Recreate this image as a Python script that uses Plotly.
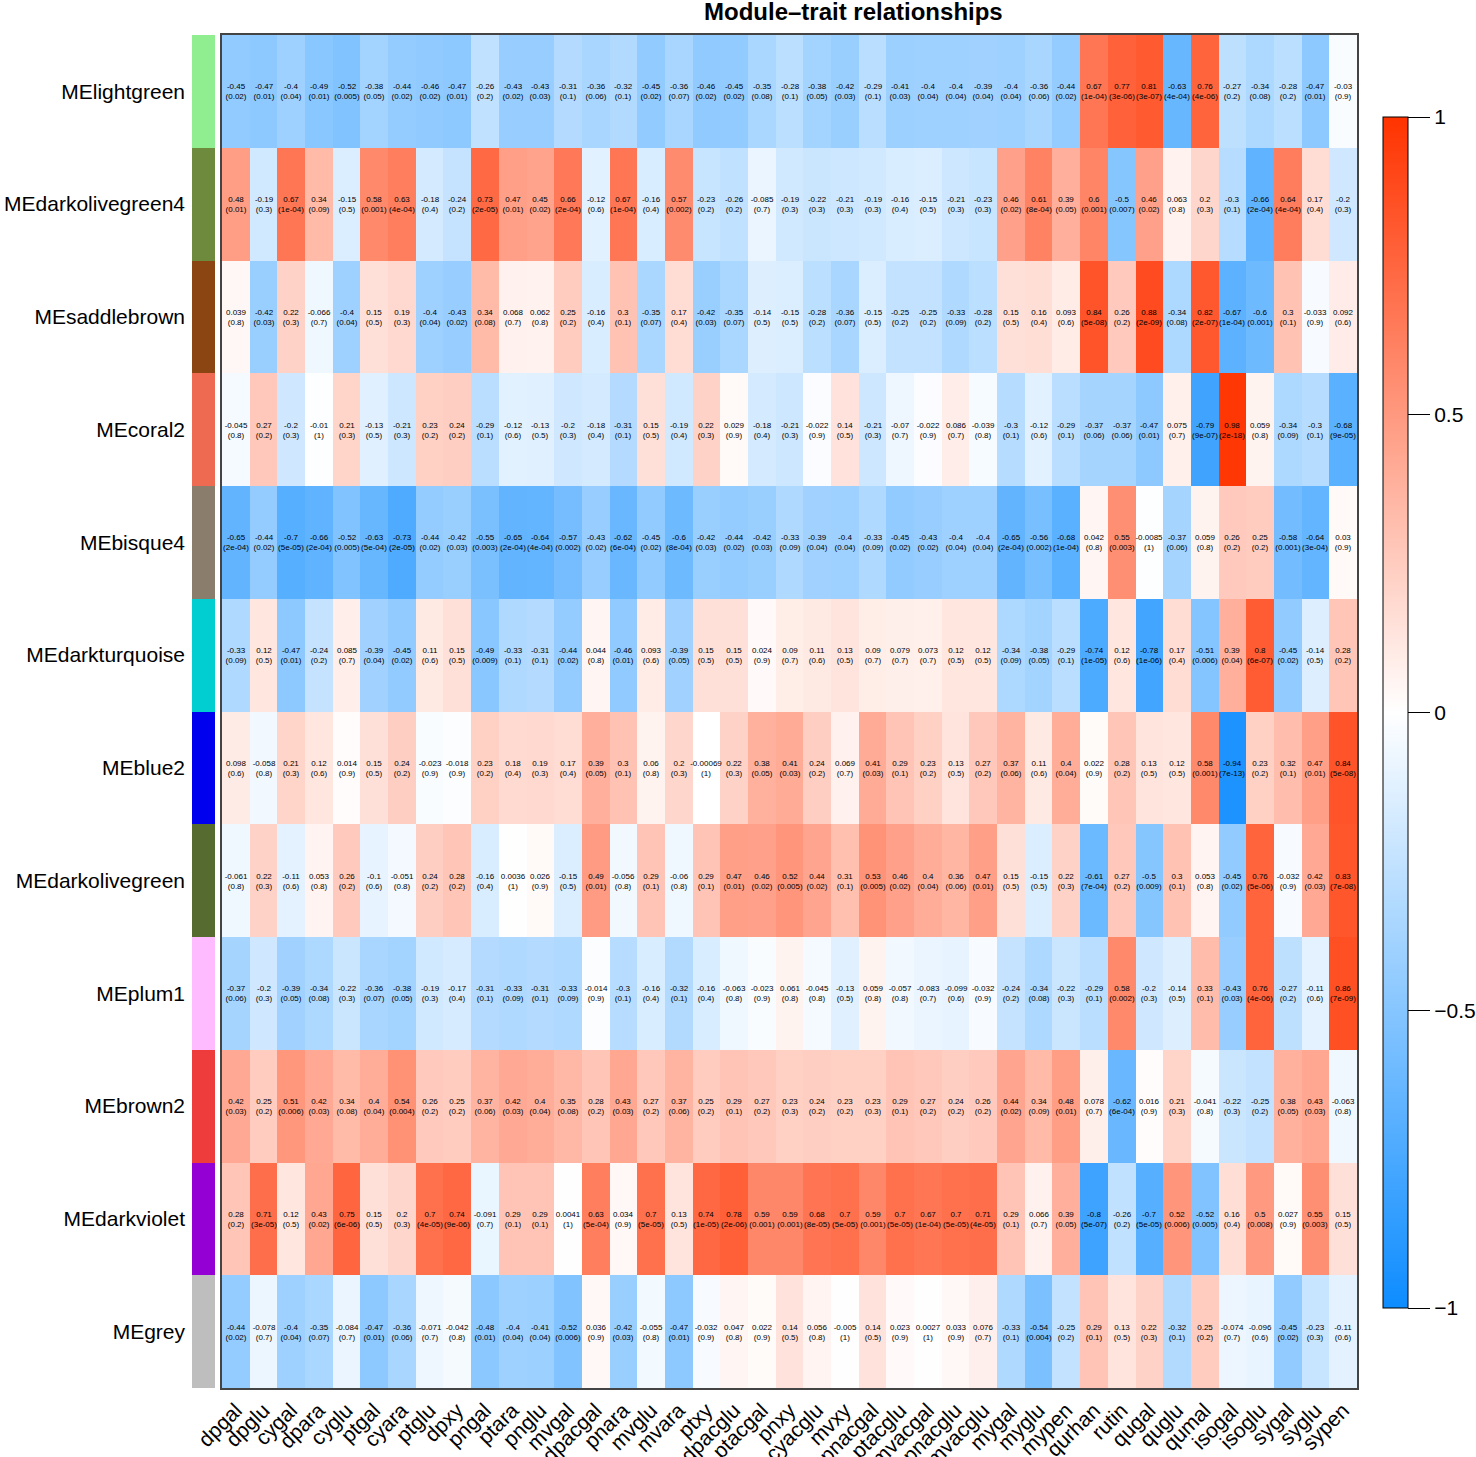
import plotly.graph_objects as go

# modules (rows, top to bottom) and traits (columns)
modules = ['MElightgreen', 'MEdarkolivegreen4', 'MEsaddlebrown', 'MEcoral2', 'MEbisque4',
           'MEdarkturquoise', 'MEblue2', 'MEdarkolivegreen', 'MEplum1', 'MEbrown2',
           'MEdarkviolet', 'MEgrey']
module_colors = ['#90EE90', '#6E8B3D', '#8B4513', '#EE6A50', '#8B7D6B', '#00CED1',
                 '#0000EE', '#556B2F', '#FFBBFF', '#EE3B3B', '#9400D3', '#BEBEBE']
traits = ['dpgal', 'dpglu', 'cygal', 'dpara', 'cyglu', 'ptgal', 'cyara', 'ptglu', 'dpxy',
          'pngal', 'ptara', 'pnglu', 'mvgal', 'dpacgal', 'pnara', 'mvglu', 'mvara', 'ptxy',
          'dpacglu', 'ptacgal', 'pnxy', 'cyacglu', 'mvxy', 'pnacgal', 'ptacglu', 'mvacgal',
          'pnacglu', 'mvacglu', 'mygal', 'myglu', 'mypen', 'qurhan', 'rutin', 'qugal',
          'quglu', 'qumal', 'isogal', 'isoglu', 'sygal', 'syglu', 'sypen']

# correlations
cor_lightgreen = [-0.45, -0.47, -0.4, -0.49, -0.52, -0.38, -0.44, -0.46, -0.47, -0.26, -0.43, -0.43, -0.31, -0.36, -0.32, -0.45, -0.36, -0.46, -0.45, -0.35, -0.28, -0.38, -0.42, -0.29, -0.41, -0.4, -0.4, -0.39, -0.4, -0.36, -0.44, 0.67, 0.77, 0.81, -0.63, 0.76, -0.27, -0.34, -0.28, -0.47, -0.03]
cor_darkolivegreen4 = [0.48, -0.19, 0.67, 0.34, -0.15, 0.58, 0.63, -0.18, -0.24, 0.73, 0.47, 0.45, 0.66, -0.12, 0.67, -0.16, 0.57, -0.23, -0.26, -0.085, -0.19, -0.22, -0.21, -0.19, -0.16, -0.15, -0.21, -0.23, 0.46, 0.61, 0.39, 0.6, -0.5, 0.46, 0.063, 0.2, -0.3, -0.66, 0.64, 0.17, -0.2]
cor_saddlebrown = [0.039, -0.42, 0.22, -0.066, -0.4, 0.15, 0.19, -0.4, -0.43, 0.34, 0.068, 0.062, 0.25, -0.16, 0.3, -0.35, 0.17, -0.42, -0.35, -0.14, -0.15, -0.28, -0.36, -0.15, -0.25, -0.25, -0.33, -0.28, 0.15, 0.16, 0.093, 0.84, 0.26, 0.88, -0.34, 0.82, -0.67, -0.6, 0.3, -0.033, 0.092]
cor_coral2 = [-0.045, 0.27, -0.2, -0.01, 0.21, -0.13, -0.21, 0.23, 0.24, -0.29, -0.12, -0.13, -0.2, -0.18, -0.31, 0.15, -0.19, 0.22, 0.029, -0.18, -0.21, -0.022, 0.14, -0.21, -0.07, -0.022, 0.086, -0.039, -0.3, -0.12, -0.29, -0.37, -0.37, -0.47, 0.075, -0.79, 0.98, 0.059, -0.34, -0.3, -0.68]
cor_bisque4 = [-0.65, -0.44, -0.7, -0.66, -0.52, -0.63, -0.73, -0.44, -0.42, -0.55, -0.65, -0.64, -0.57, -0.43, -0.62, -0.45, -0.6, -0.42, -0.44, -0.42, -0.33, -0.39, -0.4, -0.33, -0.45, -0.43, -0.4, -0.4, -0.65, -0.56, -0.68, 0.042, 0.55, -0.0085, -0.37, 0.059, 0.26, 0.25, -0.58, -0.64, 0.03]
cor_darkturquoise = [-0.33, 0.12, -0.47, -0.24, 0.085, -0.39, -0.45, 0.11, 0.15, -0.49, -0.33, -0.31, -0.44, 0.044, -0.46, 0.093, -0.39, 0.15, 0.15, 0.024, 0.09, 0.11, 0.13, 0.09, 0.079, 0.073, 0.12, 0.12, -0.34, -0.38, -0.29, -0.74, 0.12, -0.78, 0.17, -0.51, 0.39, 0.8, -0.45, -0.14, 0.28]
cor_blue2 = [0.098, -0.058, 0.21, 0.12, 0.014, 0.15, 0.24, -0.023, -0.018, 0.23, 0.18, 0.19, 0.17, 0.39, 0.3, 0.06, 0.2, -0.00069, 0.22, 0.38, 0.41, 0.24, 0.069, 0.41, 0.29, 0.23, 0.13, 0.27, 0.37, 0.11, 0.4, 0.022, 0.28, 0.13, 0.12, 0.58, -0.94, 0.23, 0.32, 0.47, 0.84]
cor_darkolivegreen = [-0.061, 0.22, -0.11, 0.053, 0.26, -0.1, -0.051, 0.24, 0.28, -0.16, 0.0036, 0.026, -0.15, 0.49, -0.056, 0.29, -0.06, 0.29, 0.47, 0.46, 0.52, 0.44, 0.31, 0.53, 0.46, 0.4, 0.36, 0.47, 0.15, -0.15, 0.22, -0.61, 0.27, -0.5, 0.3, 0.053, -0.45, 0.76, -0.032, 0.42, 0.83]
cor_plum1 = [-0.37, -0.2, -0.39, -0.34, -0.22, -0.36, -0.38, -0.19, -0.17, -0.31, -0.33, -0.31, -0.33, -0.014, -0.3, -0.16, -0.32, -0.16, -0.063, -0.023, 0.061, -0.045, -0.13, 0.059, -0.057, -0.083, -0.099, -0.032, -0.24, -0.34, -0.22, -0.29, 0.58, -0.2, -0.14, 0.33, -0.43, 0.76, -0.27, -0.11, 0.86]
cor_brown2 = [0.42, 0.25, 0.51, 0.42, 0.34, 0.4, 0.54, 0.26, 0.25, 0.37, 0.42, 0.4, 0.35, 0.28, 0.43, 0.27, 0.37, 0.25, 0.29, 0.27, 0.23, 0.24, 0.23, 0.23, 0.29, 0.27, 0.24, 0.26, 0.44, 0.34, 0.48, 0.078, -0.62, 0.016, 0.21, -0.041, -0.22, -0.25, 0.38, 0.43, -0.063]
cor_darkviolet = [0.28, 0.71, 0.12, 0.43, 0.75, 0.15, 0.2, 0.7, 0.74, -0.091, 0.29, 0.29, 0.0041, 0.63, 0.034, 0.7, 0.13, 0.74, 0.78, 0.59, 0.59, 0.68, 0.7, 0.59, 0.7, 0.67, 0.7, 0.71, 0.29, 0.066, 0.39, -0.8, -0.26, -0.7, 0.52, -0.52, 0.16, 0.5, 0.027, 0.55, 0.15]
cor_grey = [-0.44, -0.078, -0.4, -0.35, -0.084, -0.47, -0.36, -0.071, -0.042, -0.48, -0.4, -0.41, -0.52, 0.036, -0.42, -0.055, -0.47, -0.032, 0.047, 0.022, 0.14, 0.056, -0.005, 0.14, 0.023, 0.0027, 0.033, 0.076, -0.33, -0.54, -0.25, 0.29, 0.13, 0.22, -0.32, 0.25, -0.074, -0.096, -0.45, -0.23, -0.11]

# p-values (as printed)
p_lightgreen = ['0.02', '0.01', '0.04', '0.01', '0.005', '0.05', '0.02', '0.02', '0.01', '0.2', '0.02', '0.03', '0.1', '0.06', '0.1', '0.02', '0.07', '0.02', '0.02', '0.08', '0.1', '0.05', '0.03', '0.1', '0.03', '0.04', '0.04', '0.04', '0.04', '0.06', '0.02', '1e-04', '3e-06', '3e-07', '4e-04', '4e-06', '0.2', '0.08', '0.2', '0.01', '0.9']
p_darkolivegreen4 = ['0.01', '0.3', '1e-04', '0.09', '0.5', '0.001', '4e-04', '0.4', '0.2', '2e-05', '0.01', '0.02', '2e-04', '0.6', '1e-04', '0.4', '0.002', '0.2', '0.2', '0.7', '0.3', '0.3', '0.3', '0.3', '0.4', '0.5', '0.3', '0.3', '0.02', '8e-04', '0.05', '0.001', '0.007', '0.02', '0.8', '0.3', '0.1', '2e-04', '4e-04', '0.4', '0.3']
p_saddlebrown = ['0.8', '0.03', '0.3', '0.7', '0.04', '0.5', '0.3', '0.04', '0.02', '0.08', '0.7', '0.8', '0.2', '0.4', '0.1', '0.07', '0.4', '0.03', '0.07', '0.5', '0.5', '0.2', '0.07', '0.5', '0.2', '0.2', '0.09', '0.2', '0.5', '0.4', '0.6', '5e-08', '0.2', '2e-09', '0.08', '2e-07', '1e-04', '0.001', '0.1', '0.9', '0.6']
p_coral2 = ['0.8', '0.2', '0.3', '1', '0.3', '0.5', '0.3', '0.2', '0.2', '0.1', '0.6', '0.5', '0.3', '0.4', '0.1', '0.5', '0.4', '0.3', '0.9', '0.4', '0.3', '0.9', '0.5', '0.3', '0.7', '0.9', '0.7', '0.8', '0.1', '0.6', '0.1', '0.06', '0.06', '0.01', '0.7', '9e-07', '2e-18', '0.8', '0.09', '0.1', '9e-05']
p_bisque4 = ['2e-04', '0.02', '5e-05', '2e-04', '0.005', '5e-04', '2e-05', '0.02', '0.03', '0.003', '2e-04', '4e-04', '0.002', '0.02', '6e-04', '0.02', '8e-04', '0.03', '0.02', '0.03', '0.09', '0.04', '0.04', '0.09', '0.02', '0.02', '0.04', '0.04', '2e-04', '0.002', '1e-04', '0.8', '0.003', '1', '0.06', '0.8', '0.2', '0.2', '0.001', '3e-04', '0.9']
p_darkturquoise = ['0.09', '0.5', '0.01', '0.2', '0.7', '0.04', '0.02', '0.6', '0.5', '0.009', '0.1', '0.1', '0.02', '0.8', '0.01', '0.6', '0.05', '0.5', '0.5', '0.9', '0.7', '0.6', '0.5', '0.7', '0.7', '0.7', '0.5', '0.5', '0.09', '0.05', '0.1', '1e-05', '0.6', '1e-06', '0.4', '0.006', '0.04', '6e-07', '0.02', '0.5', '0.2']
p_blue2 = ['0.6', '0.8', '0.3', '0.6', '0.9', '0.5', '0.2', '0.9', '0.9', '0.2', '0.4', '0.3', '0.4', '0.05', '0.1', '0.8', '0.3', '1', '0.3', '0.05', '0.03', '0.2', '0.7', '0.03', '0.1', '0.2', '0.5', '0.2', '0.06', '0.6', '0.04', '0.9', '0.2', '0.5', '0.5', '0.001', '7e-13', '0.2', '0.1', '0.01', '5e-08']
p_darkolivegreen = ['0.8', '0.3', '0.6', '0.8', '0.2', '0.6', '0.8', '0.2', '0.2', '0.4', '1', '0.9', '0.5', '0.01', '0.8', '0.1', '0.8', '0.1', '0.01', '0.02', '0.005', '0.02', '0.1', '0.005', '0.02', '0.04', '0.06', '0.01', '0.5', '0.5', '0.3', '7e-04', '0.2', '0.009', '0.1', '0.8', '0.02', '5e-06', '0.9', '0.03', '7e-08']
p_plum1 = ['0.06', '0.3', '0.05', '0.08', '0.3', '0.07', '0.05', '0.3', '0.4', '0.1', '0.09', '0.1', '0.09', '0.9', '0.1', '0.4', '0.1', '0.4', '0.8', '0.9', '0.8', '0.8', '0.5', '0.8', '0.8', '0.7', '0.6', '0.9', '0.2', '0.08', '0.3', '0.1', '0.002', '0.3', '0.5', '0.1', '0.03', '4e-06', '0.2', '0.6', '7e-09']
p_brown2 = ['0.03', '0.2', '0.006', '0.03', '0.08', '0.04', '0.004', '0.2', '0.2', '0.06', '0.03', '0.04', '0.08', '0.2', '0.03', '0.2', '0.06', '0.2', '0.1', '0.2', '0.3', '0.2', '0.2', '0.3', '0.1', '0.2', '0.2', '0.2', '0.02', '0.09', '0.01', '0.7', '6e-04', '0.9', '0.3', '0.8', '0.3', '0.2', '0.05', '0.03', '0.8']
p_darkviolet = ['0.2', '3e-05', '0.5', '0.02', '6e-06', '0.5', '0.3', '4e-05', '9e-06', '0.7', '0.1', '0.1', '1', '5e-04', '0.9', '5e-05', '0.5', '1e-05', '2e-06', '0.001', '0.001', '8e-05', '5e-05', '0.001', '5e-05', '1e-04', '5e-05', '4e-05', '0.1', '0.7', '0.05', '5e-07', '0.2', '5e-05', '0.006', '0.005', '0.4', '0.008', '0.9', '0.003', '0.5']
p_grey = ['0.02', '0.7', '0.04', '0.07', '0.7', '0.01', '0.06', '0.7', '0.8', '0.01', '0.04', '0.04', '0.006', '0.9', '0.03', '0.8', '0.01', '0.9', '0.8', '0.9', '0.5', '0.8', '1', '0.5', '0.9', '1', '0.9', '0.7', '0.1', '0.004', '0.2', '0.1', '0.5', '0.3', '0.1', '0.2', '0.7', '0.6', '0.02', '0.3', '0.6']

cor = [cor_lightgreen, cor_darkolivegreen4, cor_saddlebrown, cor_coral2, cor_bisque4,
       cor_darkturquoise, cor_blue2, cor_darkolivegreen, cor_plum1, cor_brown2,
       cor_darkviolet, cor_grey]
pval = [p_lightgreen, p_darkolivegreen4, p_saddlebrown, p_coral2, p_bisque4,
        p_darkturquoise, p_blue2, p_darkolivegreen, p_plum1, p_brown2,
        p_darkviolet, p_grey]

cbar_ticks = [-1, -0.5, 0, 0.5, 1]
cbar_labels = ['\u22121', '\u22120.5', '0', '0.5', '1']

cell_text = [[f'{c:g}<br>({p})' for c, p in zip(rc, rp)] for rc, rp in zip(cor, pval)]

W, H = 1476, 1457
FONT = 'Liberation Sans, Arial, Helvetica, sans-serif'

# pixel geometry of the reference
hm_x0, hm_x1 = 222, 1357
hm_y0, hm_y1 = 35, 1388
st_x0, st_x1 = 192, 215


def px(x):
    return x / W


def py(y):
    return 1 - y / H


fig = go.Figure()

fig.add_trace(go.Heatmap(
    z=cor, x=traits, y=modules,
    text=cell_text, texttemplate='%{text}',
    textfont=dict(size=8, color='black', family=FONT),
    zmin=-1, zmax=1,
    colorscale=[[0, 'rgb(13,140,255)'], [0.5, 'rgb(255,255,255)'], [1, 'rgb(255,51,0)']],
    xgap=0, ygap=0,
    colorbar=dict(
        x=px(1383), xanchor='left', xpad=0,
        y=py((117 + 1308) / 2), yanchor='middle', ypad=0,
        len=(1308 - 117) / H, lenmode='fraction',
        thickness=25, thicknessmode='pixels',
        outlinecolor='black', outlinewidth=1,
        tickvals=cbar_ticks, ticktext=cbar_labels,
        ticks='outside', ticklen=22, tickwidth=1, tickcolor='black',
        tickfont=dict(size=21, family=FONT, color='black'),
    ),
    hoverinfo='skip',
))

# module colour strip
fig.add_trace(go.Bar(
    x=[1] * len(modules), y=modules, orientation='h',
    marker=dict(color=module_colors, line=dict(width=0)),
    width=1, xaxis='x2', yaxis='y2', showlegend=False, hoverinfo='skip',
))

fig.update_layout(
    width=W, height=H,
    margin=dict(l=0, r=0, t=0, b=0, autoexpand=False),
    paper_bgcolor='white', plot_bgcolor='white',
    font=dict(family=FONT, color='black'),
    xaxis=dict(domain=[px(hm_x0), px(hm_x1)], anchor='y', tickangle=-45,
               tickfont=dict(size=21), ticks='', showgrid=False, automargin=False,
               showline=True, mirror=True, linecolor='#444', linewidth=1.5),
    yaxis=dict(domain=[py(hm_y1), py(hm_y0)], anchor='x', autorange='reversed',
               showticklabels=False, ticks='', showgrid=False, automargin=False,
               showline=True, mirror=True, linecolor='#444', linewidth=1.5),
    xaxis2=dict(domain=[px(st_x0), px(st_x1)], anchor='y2', range=[0, 1],
                showticklabels=False, showgrid=False, zeroline=False, automargin=False),
    yaxis2=dict(domain=[py(hm_y1), py(hm_y0)], anchor='x2', autorange='reversed',
                tickfont=dict(size=21), ticks='', showgrid=False, automargin=False,
                ticklabelstandoff=6),
    bargap=0,
    annotations=[dict(text='<b>Module\u2013trait relationships</b>', x=px(853), y=py(12),
                      xref='paper', yref='paper', xanchor='center', yanchor='middle',
                      showarrow=False, font=dict(size=24, family=FONT, color='black'))],
)

fig.write_html('out.html', config={'displayModeBar': False},
               post_script="document.body.style.margin='0px';")
